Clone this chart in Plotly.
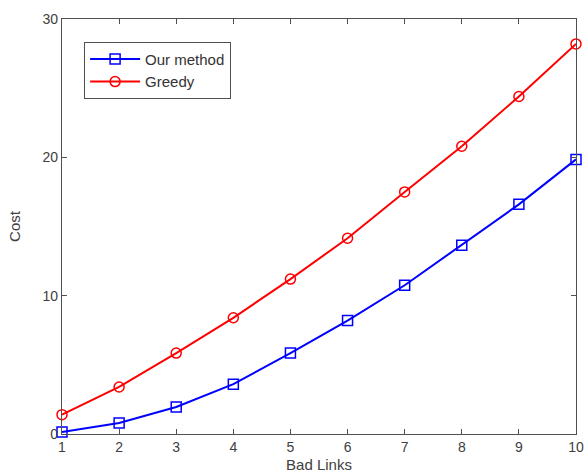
import plotly.graph_objects as go

bad_links = [1, 2, 3, 4, 5, 6, 7, 8, 9, 10]
our_method = [0.15, 0.8, 1.95, 3.6, 5.85, 8.2, 10.75, 13.65, 16.6, 19.85]
greedy = [1.4, 3.4, 5.85, 8.4, 11.2, 14.15, 17.5, 20.8, 24.4, 28.2]
x_ticks = [1, 2, 3, 4, 5, 6, 7, 8, 9, 10]
y_ticks = [0, 10, 20, 30]

FONT = "Liberation Sans, Arial, sans-serif"

fig = go.Figure()
fig.add_trace(go.Scatter(
    x=bad_links, y=our_method, mode="lines+markers", name="Our method",
    line=dict(color="#0000ff", width=2),
    marker=dict(symbol="square-open", size=10, color="#0000ff", line=dict(width=1.5)),
    cliponaxis=False,
))
fig.add_trace(go.Scatter(
    x=bad_links, y=greedy, mode="lines+markers", name="Greedy",
    line=dict(color="#ff0000", width=2),
    marker=dict(symbol="circle-open", size=10, color="#ff0000", line=dict(width=1.5)),
    cliponaxis=False,
))

axis_common = dict(
    showline=True, linecolor="#505050", linewidth=1.3, mirror="ticks",
    ticks="inside", ticklen=5, tickcolor="#505050",
    showgrid=False, zeroline=False,
    tickfont=dict(family=FONT, size=14, color="#404040"),
)

fig.update_layout(
    width=585, height=476,
    margin=dict(l=62, r=9, t=19, b=42, autoexpand=False),
    paper_bgcolor="white", plot_bgcolor="white",
    font=dict(family=FONT, size=14, color="#404040"),
    xaxis=dict(range=[1, 10], tickvals=x_ticks,
               title=dict(text="Bad Links", standoff=5, font=dict(size=15, color="#404040")),
               automargin=False, **axis_common),
    yaxis=dict(range=[0, 30], tickvals=y_ticks,
               title=dict(text="Cost", standoff=18, font=dict(size=15, color="#404040")),
               automargin=False, **axis_common),
    legend=dict(x=0.043, y=0.945, xanchor="left", yanchor="top",
                bordercolor="#505050", borderwidth=1, bgcolor="white",
                font=dict(family=FONT, size=15, color="#333333"),
                itemwidth=50, tracegroupgap=0),
    showlegend=True,
)

fig.write_html(
    "out.html",
    config={"displayModeBar": False},
    post_script="document.body.style.margin='0';document.body.style.overflow='hidden';",
)
